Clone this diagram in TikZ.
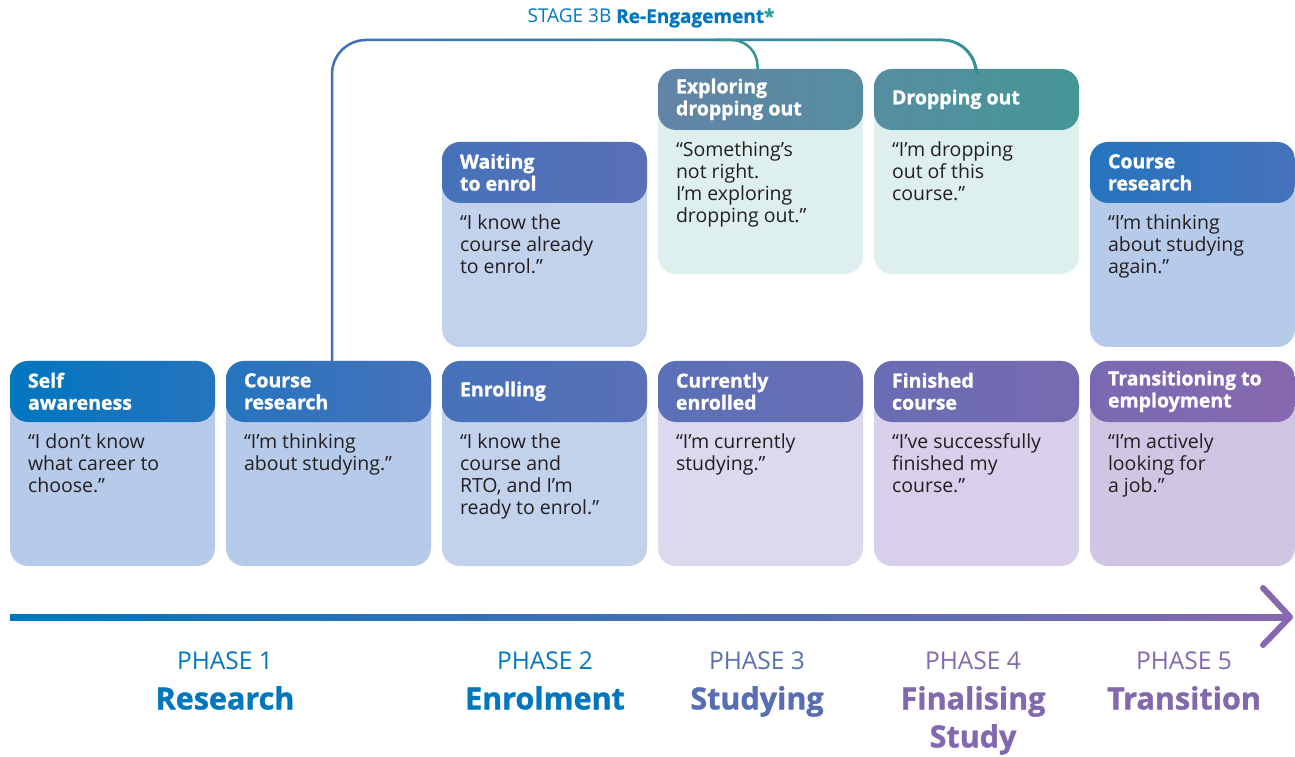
\documentclass[tikz,border=0pt]{standalone}
\usepackage{fontspec}
\setmainfont{Open Sans}[BoldFeatures={FakeBold=1.2}]
\usepackage{xcolor}
\usetikzlibrary{calc}
\usetikzlibrary{fadings}

\definecolor{hA}{RGB}{0,118,191}
\definecolor{hB}{RGB}{38,116,190}
\definecolor{hC}{RGB}{70,114,186}
\definecolor{hD}{RGB}{90,112,183}
\definecolor{hE}{RGB}{105,109,180}
\definecolor{hF}{RGB}{120,106,177}
\definecolor{hG}{RGB}{135,104,176}
\definecolor{tA}{RGB}{98,132,168}
\definecolor{tB}{RGB}{85,142,160}
\definecolor{tC}{RGB}{70,150,150}
\definecolor{bodyA}{RGB}{182,202,234}
\definecolor{bodyB}{RGB}{194,210,237}
\definecolor{bodyC}{RGB}{220,216,238}
\definecolor{bodyD}{RGB}{216,208,234}
\definecolor{bodyE}{RGB}{208,198,228}
\definecolor{bodyT}{RGB}{222,240,238}
\definecolor{linkblue}{RGB}{62,112,184}
\definecolor{linkteal}{RGB}{50,150,148}
\definecolor{starteal}{RGB}{40,160,150}
\definecolor{phC}{RGB}{88,110,180}
\definecolor{phD}{RGB}{130,104,175}
\definecolor{textdark}{RGB}{35,31,32}

\tikzfading[name=toteal, left color=transparent!100, middle color=transparent!30, right color=transparent!0]

\tikzset{
  cardbox/.style={minimum width=205pt, minimum height=205pt, inner sep=0pt, rounded corners=18pt},
  hdrtext/.style={anchor=west, inner sep=0pt, align=left, text=white, font=\bfseries\fontsize{19.5}{22}\selectfont},
  bodytext/.style={anchor=north west, inner sep=0pt, align=left, text=textdark, font=\fontsize{19.5}{21.8}\selectfont},
  link/.style={line width=2.5pt, rounded corners=34pt},
  phasetext/.style={anchor=north, inner sep=0pt, align=center, font=\fontsize{24.5}{30}\selectfont},
  phasename/.style={anchor=north, inner sep=0pt, align=center, font=\bfseries\fontsize{30.5}{38}\selectfont}
}

\begin{document}
\begin{tikzpicture}[x=1pt,y=1pt]

      \useasboundingbox (0,0) rectangle (1295,756);

      % Cards
      \foreach \nm/\cx/\cy/\hl/\hr/\bc/\hd/\bd in {
          selfaw/112.5/292.5/hA/hB/bodyA/{Self\\awareness}/{“I don’t know\\what career to\\choose.”},
          crA/328.5/292.5/hB/hC/bodyA/{Course\\research}/{“I’m thinking\\about studying.”},
          enrol/544.5/292.5/hC/hD/bodyB/{Enrolling}/{“I know the\\course and\\RTO, and I’m\\ready to enrol.”},
          current/760.5/292.5/hD/hE/bodyC/{Currently\\enrolled}/{“I’m currently\\studying.”},
          finish/976.5/292.5/hE/hF/bodyD/{Finished\\course}/{“I’ve successfully\\finished my\\course.”},
          trans/1192.5/292.5/hF/hG/bodyE/{Transitioning to\\employment}/{“I’m actively\\looking for\\a job.”},
          waiting/544.5/511.5/hC/hD/bodyB/{Waiting\\to enrol}/{“I know the\\course already\\to enrol.”},
          explore/760.5/584.5/tA/tB/bodyT/{Exploring\\dropping out}/{“Something’s\\not right.\\I’m exploring\\dropping out.”},
          drop/976.5/584.5/tB/tC/bodyT/{Dropping out}/{“I’m dropping\\out of this\\course.”},
          crB/1192.5/511.5/hB/hC/bodyA/{Course\\research}/{“I’m thinking\\about studying\\again.”}}
      {
        \node[cardbox, fill=\bc, path picture={
            \shade[left color=\hl, right color=\hr] (path picture bounding box.north west)
              rectangle ([yshift=-61pt]path picture bounding box.north east);}] (\nm) at (\cx,\cy) {};
        \node[hdrtext] (\nm-h) at ([xshift=18pt,yshift=-30.5pt]\nm.north west) {\hd};
        \node[bodytext] (\nm-b) at ([xshift=18pt,yshift=-73pt]\nm.north west) {\bd};
      }

      % Re-engagement loop
      \node[inner sep=0pt, font=\fontsize{19}{22}\selectfont] (stage) at (651,738)
        {\textcolor{hA}{STAGE 3B} \textcolor{hA}{\bfseries Re-Engagement}\textcolor{starteal}{\bfseries*}};
      \coordinate (bend) at (0,716);
      \draw[link, linkblue] ([xshift=3.5pt]crA.north) |- (drop.north |- bend) -- (drop.north);
      \draw[link, linkteal, path fading=toteal] ([xshift=3.5pt]crA.north) |- (drop.north |- bend) -- (drop.north);
      \draw[link, linkteal, rounded corners=26pt] ([xshift=-45pt]explore.north |- bend) -- ([xshift=-3pt]explore.north |- bend) -- ([xshift=-3pt]explore.north);

      % Timeline
      \coordinate (tl-start) at (10,139);
      \coordinate (tl-end) at (1290,139);
      \shade[left color=hA, right color=hG] ($(tl-start)+(0,-3)$) rectangle ($(tl-end)+(-4,3)$);
      \draw[hG, line width=6pt, line cap=round, line join=round]
        ($(tl-end)+(-27,29)$) -- (tl-end) -- ($(tl-end)+(-27,-28)$);

      % Phases
      \foreach \nm/\n/\px/\pc/\pn in {ph1/1/225/hA/{Research}, ph2/2/545/hA/{Enrolment},
          ph3/3/757/phC/{Studying}, ph4/4/973/phD/{Finalising\\Study}, ph5/5/1184/phD/{Transition}}
      {
        \node[phasetext, text=\pc] (\nm) at (\px,104) {PHASE \n};
        \node[phasename, text=\pc] (\nm-name) at (\px,70) {\pn};
      }

\end{tikzpicture}
\end{document}
